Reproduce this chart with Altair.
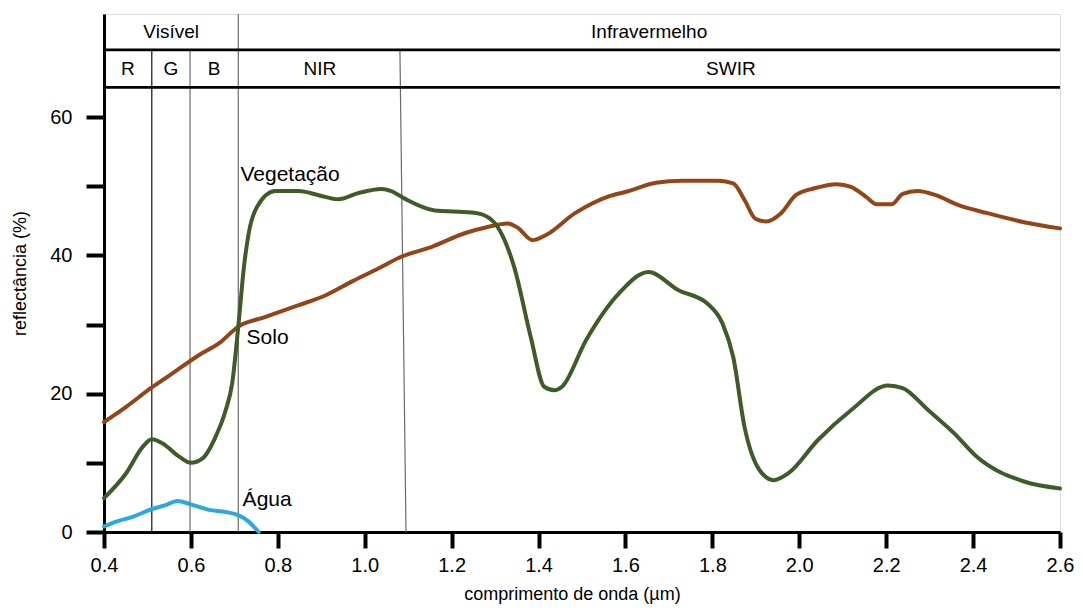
import altair as alt
import pandas as pd

# ---- data ----
veg_x = [0.40, 0.451, 0.489, 0.510, 0.535, 0.573, 0.600, 0.626, 0.657, 0.680, 0.695,
         0.709, 0.722, 0.733, 0.752, 0.794, 0.848, 0.894, 0.939, 0.985, 1.039, 1.061,
         1.092, 1.161, 1.245, 1.275, 1.306, 1.344, 1.382, 1.413, 1.436, 1.454, 1.509,
         1.585, 1.653, 1.721, 1.789, 1.823, 1.848, 1.874, 1.908, 1.941, 1.975, 2.043,
         2.119, 2.204, 2.238, 2.297, 2.356, 2.408, 2.517, 2.600]
veg_y = [4.9, 8.5, 12.3, 13.4, 12.8, 10.9, 10.0, 10.6, 13.8, 17.6, 21.5,
         29.7, 38.3, 43.2, 47.0, 49.3, 49.3, 48.7, 48.1, 49.0, 49.6, 49.3,
         48.2, 46.5, 46.2, 45.8, 44.1, 38.3, 28.2, 21.0, 20.5, 21.0, 27.7,
         34.5, 37.6, 35.0, 33.0, 30.2, 25.3, 15.2, 9.0, 7.5, 8.5, 13.3,
         17.6, 21.2, 20.8, 17.6, 14.3, 10.9, 7.3, 6.3]

soil_x = [0.40, 0.451, 0.510, 0.550, 0.619, 0.665, 0.709, 0.772, 0.848, 0.909, 0.970,
          1.031, 1.084, 1.153, 1.230, 1.283, 1.329, 1.352, 1.386, 1.416, 1.484, 1.560,
          1.602, 1.670, 1.730, 1.814, 1.848, 1.874, 1.899, 1.924, 1.958, 1.992, 2.035,
          2.086, 2.119, 2.153, 2.178, 2.213, 2.238, 2.272, 2.314, 2.365, 2.433, 2.517, 2.600]
soil_y = [15.9, 18.1, 20.9, 22.6, 25.6, 27.3, 29.7, 31.1, 32.8, 34.2, 36.2,
          38.1, 39.8, 41.2, 43.2, 44.1, 44.6, 44.0, 42.2, 42.9, 46.1, 48.5,
          49.2, 50.5, 50.8, 50.8, 50.4, 48.0, 45.3, 44.9, 46.1, 48.7, 49.7,
          50.3, 49.9, 48.5, 47.4, 47.4, 48.9, 49.3, 48.7, 47.3, 46.1, 44.8, 43.9]

water_x = [0.40, 0.428, 0.466, 0.510, 0.542, 0.569, 0.600, 0.642, 0.680, 0.706, 0.733, 0.756]
water_y = [0.8, 1.5, 2.2, 3.3, 3.9, 4.5, 4.0, 3.2, 2.9, 2.5, 1.5, 0.0]

curve_names = ["Vegetação", "Solo", "Água"]
curve_label_x = [0.714, 0.728, 0.719]
curve_label_y = [51.6, 28.0, 4.6]

band_names = ["R", "G", "B", "NIR", "SWIR"]
band_edges = [0.40, 0.510, 0.598, 0.709, 1.085, 2.60]
region_names = ["Visível", "Infravermelho"]
region_edges = [0.40, 0.709, 2.60]

x_ticks = [0.4, 0.6, 0.8, 1.0, 1.2, 1.4, 1.6, 1.8, 2.0, 2.2, 2.4, 2.6]
y_ticks = [0, 10, 20, 30, 40, 50, 60]

# ---- layout constants ----
Y_MAX = 74.9      # top of the frame (header included)
ROW_1 = 69.7      # line between the two header rows
ROW_2 = 64.3      # bottom of the header
FONT = "Liberation Sans"

x_scale = alt.Scale(domain=[0.4, 2.6], nice=False, zero=False)
y_scale = alt.Scale(domain=[0, Y_MAX], nice=False, zero=False)

x_axis = alt.Axis(values=x_ticks, format=".1f", grid=False, labelFlush=False,
                  tickSize=16, tickWidth=4, tickColor="black",
                  domainColor="black", domainWidth=3,
                  labelFontSize=20, labelPadding=7, labelColor="black", labelFont=FONT,
                  title="comprimento de onda (µm)", titleFontSize=18,
                  titleFontWeight="normal", titleColor="black", titleFont=FONT,
                  titleX=468, titleY=67, titleBaseline="alphabetic", titleAlign="center")
y_axis = alt.Axis(values=y_ticks, grid=False,
                  labelExpr="datum.value % 20 == 0 ? datum.label : ''",
                  tickSize=18, tickWidth=4, tickColor="black",
                  domainColor="black", domainWidth=3,
                  labelFontSize=20, labelPadding=14, labelColor="black", labelFont=FONT,
                  title="reflectância (%)", titleFontSize=18, titleFontWeight="normal",
                  titleColor="black", titleFont=FONT,
                  titleX=-84, titleY=259, titleAngle=270,
                  titleAlign="center", titleBaseline="middle")

X = lambda f: alt.X(f, type="quantitative", scale=x_scale, axis=x_axis)
Y = lambda f: alt.Y(f, type="quantitative", scale=y_scale, axis=y_axis)


def curve(xs, ys, color):
    df = pd.DataFrame({"x": xs, "y": ys})
    return alt.Chart(df).mark_line(color=color, strokeWidth=4,
                                   interpolate="monotone", strokeCap="round").encode(
        x=X("x"), y=Y("y"))


veg = curve(veg_x, veg_y, "#3d5c28")
soil = curve(soil_x, soil_y, "#934517")
water = curve(water_x, water_y, "#2ba8df")

# header horizontal lines
hdr_df = pd.DataFrame({"y": [ROW_1, ROW_2]})
hdr_lines = alt.Chart(hdr_df).mark_rule(color="black", strokeWidth=2.8).encode(y=Y("y"))

# vertical dividers
div_df = pd.DataFrame({
    "x": [band_edges[1], band_edges[2], band_edges[3], 1.081],
    "x2": [band_edges[1], band_edges[2], band_edges[3], 1.095],
    "y": [ROW_1, ROW_1, Y_MAX, ROW_1],
    "y2": [0, 0, 0, 0],
    "kind": ["dark", "grey", "grey", "grey"],
})
dividers = alt.Chart(div_df).mark_rule(strokeWidth=1.2).encode(
    x=X("x"), x2="x2", y=Y("y"), y2="y2",
    color=alt.Color("kind:N", scale=alt.Scale(domain=["dark", "grey"],
                                              range=["#111111", "#6a6a6a"]), legend=None))

# header texts
band_df = pd.DataFrame({
    "label": band_names,
    "x": [(band_edges[i] + band_edges[i + 1]) / 2 for i in range(len(band_names))],
    "y": [(ROW_1 + ROW_2) / 2] * len(band_names),
})
region_df = pd.DataFrame({
    "label": region_names,
    "x": [(region_edges[i] + region_edges[i + 1]) / 2 for i in range(len(region_names))],
    "y": [(Y_MAX + ROW_1) / 2] * len(region_names),
})
band_text = alt.Chart(band_df).mark_text(fontSize=19, font=FONT, color="black",
                                         baseline="middle", align="center").encode(
    x=X("x"), y=Y("y"), text="label:N")
region_text = alt.Chart(region_df).mark_text(fontSize=19, font=FONT, color="black",
                                             baseline="middle", align="center").encode(
    x=X("x"), y=Y("y"), text="label:N")

# curve labels
lab_df = pd.DataFrame({"label": curve_names, "x": curve_label_x, "y": curve_label_y})
curve_text = alt.Chart(lab_df).mark_text(fontSize=21, font=FONT, color="black",
                                         baseline="middle", align="left").encode(
    x=X("x"), y=Y("y"), text="label:N")

chart = alt.layer(dividers, hdr_lines, soil, veg, water,
                  band_text, region_text, curve_text).properties(
    width=956, height=518,
    autosize=alt.AutoSizeParams(type="none"),
    padding={"left": 96, "top": 6, "right": 15, "bottom": 72},
).configure_view(stroke="black", strokeWidth=2.8).configure(background="white")

chart.save("out.html", embed_options={"renderer": "svg", "actions": False})
